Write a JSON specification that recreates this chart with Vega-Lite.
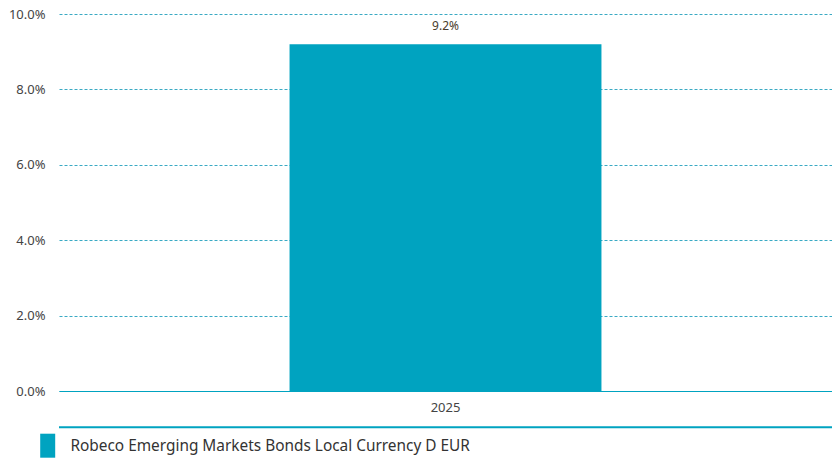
{
  "$schema": "https://vega.github.io/schema/vega-lite/v6.json",
  "width": 773,
  "height": 377,
  "autosize": {"type": "none"},
  "padding": {"left": 59, "top": 14, "right": 0, "bottom": 68},
  "background": "white",
  "config": {
    "view": {"stroke": null},
    "font": "Noto Sans"
  },
  "data": {
    "values": [
      {"year": "2025", "fund": "Robeco Emerging Markets Bonds Local Currency D EUR", "return": 0.092}
    ]
  },
  "layer": [
    {
      "mark": {"type": "bar", "color": "#00a3c0"},
      "encoding": {
        "x": {
          "field": "year",
          "type": "nominal",
          "scale": {"paddingInner": 0.425, "paddingOuter": 0.425},
          "axis": {
            "title": null,
            "labelAngle": 0,
            "labelFontSize": 13,
            "labelColor": "#444444",
            "labelPadding": 10,
            "domainColor": "#00a3c0",
            "domainWidth": 1,
            "ticks": false,
            "zindex": 1
          }
        },
        "y": {
          "field": "return",
          "type": "quantitative",
          "scale": {"domain": [0, 0.1]},
          "axis": {
            "title": null,
            "format": ".1%",
            "values": [0, 0.02, 0.04, 0.06, 0.08, 0.1],
            "labelFontSize": 13,
            "labelColor": "#444444",
            "labelPadding": 14,
            "domain": false,
            "ticks": false,
            "gridColor": "#3aaac4",
            "gridDash": [3, 2],
            "gridWidth": 1
          }
        },
        "fill": {
          "field": "fund",
          "type": "nominal",
          "scale": {"range": ["#00a3c0"]},
          "legend": {
            "title": null,
            "orient": "none",
            "legendX": -19,
            "legendY": 424,
            "padding": 0,
            "symbolType": "M-1,-1.6L1,-1.6L1,1.6L-1,1.6Z",
            "symbolSize": 225,
            "symbolStrokeWidth": 0,
            "labelFontSize": 15.4,
            "labelColor": "#333333",
            "labelOffset": 15,
            "labelLimit": 700
          }
        }
      }
    },
    {
      "mark": {"type": "text", "dy": -18, "fontSize": 12, "color": "#4a3c2c"},
      "encoding": {
        "x": {"field": "year", "type": "nominal"},
        "y": {"field": "return", "type": "quantitative"},
        "text": {"field": "return", "type": "quantitative", "format": ".1%"}
      }
    },
    {
      "mark": {"type": "rule", "color": "#00a3c0", "strokeWidth": 2, "clip": false},
      "encoding": {"y": {"datum": -0.0096}}
    }
  ]
}
